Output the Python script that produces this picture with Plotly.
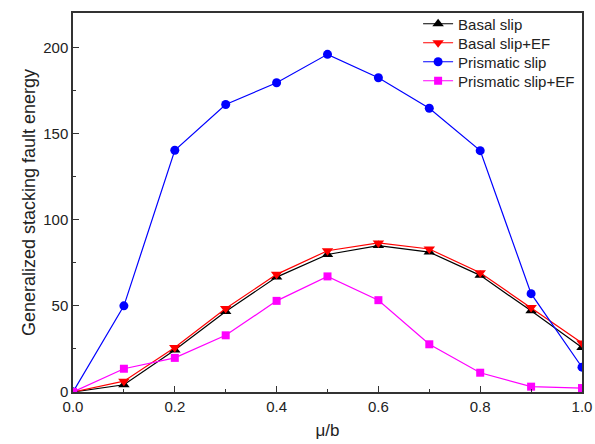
import plotly.graph_objects as go

x = [0.0, 0.1, 0.2, 0.3, 0.4, 0.5, 0.6, 0.7, 0.8, 0.9, 1.0]
basal = [0, 4.2, 24.4, 46.7, 66.7, 79.8, 85.0, 81.2, 67.7, 47.1, 25.8]
basal_ef = [0, 6.3, 25.8, 48.5, 68.3, 82.0, 86.5, 83.0, 69.2, 49.0, 28.5]
prismatic = [0, 50.0, 140.3, 166.9, 179.5, 196.0, 182.4, 164.7, 140.1, 57.1, 14.4]
prismatic_ef = [0, 13.5, 19.8, 32.9, 52.9, 67.1, 53.3, 27.7, 11.2, 3.1, 2.3]

names = ["Basal slip", "Basal slip+EF", "Prismatic slip", "Prismatic slip+EF"]
series = [basal, basal_ef, prismatic, prismatic_ef]
colors = ["#000000", "#ff0000", "#0000ff", "#ff00ff"]
symbols = ["triangle-up", "triangle-down", "circle", "square"]
msizes = [10, 10, 9, 8]
legend_ids = ["legend", "legend2", "legend3", "legend4"]

fig = go.Figure()
for n, s, c, m, ms, lg in zip(names, series, colors, symbols, msizes, legend_ids):
    fig.add_trace(go.Scatter(
        x=x, y=s, name=n, mode="lines+markers",
        line=dict(color=c, width=1.2),
        marker=dict(symbol=m, size=ms, color=c, line=dict(width=0)),
        legend=lg, showlegend=True,
    ))

axis_common = dict(
    showline=True, linecolor="#333333", linewidth=1.5, mirror=True,
    ticks="inside", ticklen=6, tickwidth=1.2, tickcolor="#333333",
    showgrid=False, zeroline=False, automargin=False,
    tickfont=dict(size=15, color="#222222"),
)

H = 444
legend_layout = {}
for i, lg in enumerate(legend_ids):
    legend_layout[lg] = dict(
        x=0.678, xanchor="left",
        yref="container", y=1 - (24 + 19 * i) / H, yanchor="middle",
        bgcolor="rgba(0,0,0,0)", font=dict(size=15, color="#222222"),
        itemwidth=30, visible=True,
    )

fig.update_layout(
    width=595, height=H,
    showlegend=True,
    margin=dict(l=73, r=13, t=13, b=52, autoexpand=False),
    paper_bgcolor="white", plot_bgcolor="white",
    font=dict(family="Liberation Sans, Arial, sans-serif", color="#222222"),
    xaxis=dict(
        range=[0, 1.0], dtick=0.2, tick0=0, tickformat=".1f",
        minor=dict(ticks="inside", ticklen=3, dtick=0.1, tickcolor="#333333", tickwidth=1.2),
        title=dict(text="μ/b", font=dict(size=17), standoff=10),
        **axis_common,
    ),
    yaxis=dict(
        range=[0, 220], dtick=50, tick0=0,
        minor=dict(ticks="inside", ticklen=3, dtick=25, tickcolor="#333333", tickwidth=1.2),
        title=dict(text="Generalized stacking fault energy", font=dict(size=18), standoff=3),
        **axis_common,
    ),
    **legend_layout,
)

fig.write_html("out.html")
